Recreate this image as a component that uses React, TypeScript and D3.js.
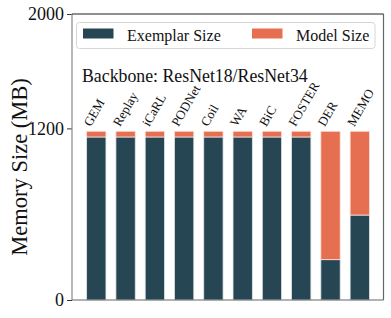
import React, { useRef, useEffect } from 'react';
import * as d3 from 'd3';

const methods = ['GEM', 'Replay', 'iCaRL', 'PODNet', 'Coil', 'WA', 'BiC', 'FOSTER', 'DER', 'MEMO'];
const exemplarSize = [1140, 1140, 1140, 1140, 1140, 1140, 1140, 1140, 282, 594];
const modelSize = [40, 40, 40, 40, 40, 40, 40, 40, 898, 586];
const yTicks = [0, 1200, 2000];

const DARK = '#264653';
const ORANGE = '#e76f51';
const FONT = '"Liberation Serif", "DejaVu Serif", serif';

const draw = (svgRef: React.RefObject<SVGSVGElement>) => {
  const svgEl = d3.select(svgRef.current);
  svgEl.selectAll('*').remove();

  const margin = { left: 72, right: 7.5, top: 14, bottom: 18 };
  const width = 391, height = 318;

  const x = d3.scaleLinear()
    .domain([-0.83, 9.81])
    .range([margin.left, width - margin.right]);

  const y = d3.scaleLinear()
    .domain([0, 2000])
    .range([height - margin.bottom, margin.top]);

  const bw = (x(0.66) - x(0));

  const svg = svgEl.append('g');

  // bars: exemplar (bottom) + model (top)
  const g = svg.append('g');
  methods.forEach((m, i) => {
    const x0 = x(i) - bw / 2;
    g.append('rect')
      .attr('x', x0).attr('width', bw)
      .attr('y', y(exemplarSize[i])).attr('height', y(0) - y(exemplarSize[i]))
      .attr('fill', DARK).attr('stroke', '#dfe5e8').attr('stroke-width', 0.8);
    g.append('rect')
      .attr('x', x0).attr('width', bw)
      .attr('y', y(exemplarSize[i] + modelSize[i])).attr('height', y(exemplarSize[i]) - y(exemplarSize[i] + modelSize[i]))
      .attr('fill', ORANGE).attr('stroke', '#fbe3dc').attr('stroke-width', 0.8);

    // rotated method name above each bar
    const tx = x0 + 4, ty = y(exemplarSize[i] + modelSize[i]) - 4;
    g.append('text')
      .attr('transform', `translate(${tx},${ty}) rotate(-60)`)
      .attr('font-family', FONT).attr('font-size', 13)
      .attr('fill', '#111')
      .text(m);
  });

  // y axis
  const yAxis = d3.axisLeft(y).tickValues(yTicks).tickSize(5).tickPadding(3).tickFormat(d3.format('d'));
  svg.append('g')
    .attr('transform', `translate(${margin.left},0)`)
    .call(yAxis)
    .call(s => s.select('.domain').remove())
    .call(s => s.selectAll('line').attr('stroke', '#333'))
    .call(s => s.selectAll('text').attr('font-family', FONT).attr('font-size', 18).attr('fill', '#111'));

  // spines
  const [xl, xr] = x.range();
  const [yb, yt] = y.range();
  svg.append('line').attr('x1', xl).attr('x2', xl).attr('y1', yt).attr('y2', yb).attr('stroke', '#888').attr('stroke-width', 1.2);
  svg.append('line').attr('x1', xr).attr('x2', xr).attr('y1', yt).attr('y2', yb).attr('stroke', '#666').attr('stroke-width', 1.2);
  svg.append('line').attr('x1', xl).attr('x2', xr).attr('y1', yt).attr('y2', yt).attr('stroke', '#222').attr('stroke-width', 1.2);
  svg.append('line').attr('x1', xl).attr('x2', xr).attr('y1', yb).attr('y2', yb).attr('stroke', '#666').attr('stroke-width', 1.2);

  // y label
  svg.append('text')
    .attr('transform', `translate(19,${(yt + yb) / 2 + 10}) rotate(-90)`)
    .attr('text-anchor', 'middle')
    .attr('dominant-baseline', 'central')
    .attr('font-family', FONT).attr('font-size', 22.5).attr('fill', '#111')
    .text('Memory Size (MB)');

  // legend
  const lg = svg.append('g');
  lg.append('rect')
    .attr('x', 76.5).attr('y', 22.5).attr('width', 298.5).attr('height', 26).attr('rx', 3)
    .attr('fill', 'white').attr('stroke', '#d6d6d6').attr('stroke-width', 1);
  const items = [
    { label: 'Exemplar Size', color: DARK, px: 83, tx: 127 },
    { label: 'Model Size', color: ORANGE, px: 252, tx: 296 }
  ];
  items.forEach(it => {
    lg.append('rect').attr('x', it.px).attr('y', 28.5).attr('width', 30.5).attr('height', 10).attr('fill', it.color);
    lg.append('text')
      .attr('x', it.tx).attr('y', 41)
      .attr('font-family', FONT).attr('font-size', 16).attr('fill', '#111')
      .text(it.label);
  });

  svg.append('text')
    .attr('x', 82).attr('y', 82)
    .attr('font-family', FONT).attr('font-size', 17.8).attr('fill', '#111')
    .text('Backbone: ResNet18/ResNet34');
};

export default function App() {
  const svgRef = useRef<SVGSVGElement>(null);
  useEffect(() => {
    draw(svgRef);
  }, []);
  return (
    <svg ref={svgRef} width={391} height={318}
      style={{ position: 'absolute', left: 0, top: 0, background: 'white' }} />
  );
}
